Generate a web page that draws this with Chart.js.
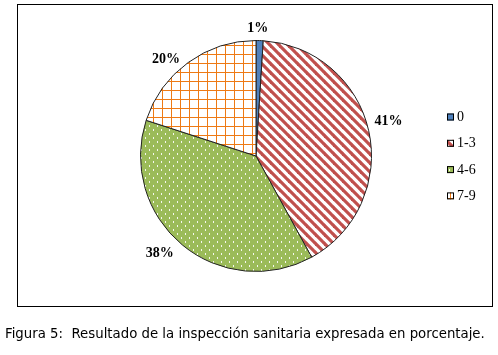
<!DOCTYPE html>
<html>
<head>
<meta charset="utf-8">
<script src="https://cdn.jsdelivr.net/npm/chart.js@4.4.1/dist/chart.umd.min.js"></script>
<style>
  html, body { margin: 0; padding: 0; background: #fff; }
  #wrap { position: relative; width: 498px; height: 355px; overflow: hidden; }
  #chart { position: absolute; left: 0; top: 0; }
  #frame { position: absolute; left: 17px; top: 4px; width: 474px; height: 301px; border: 1.5px solid #000; pointer-events: none; }
  #caption { position: absolute; left: 5px; top: 326px; font-family: "DejaVu Sans", sans-serif; font-size: 13.3px; color: #000; white-space: pre; }
</style>
</head>
<body>
<div id="wrap">
  <canvas id="chart" width="498" height="355"></canvas>
  <div id="frame"></div>
  <div id="caption">Figura 5:  Resultado de la inspección sanitaria expresada en porcentaje.</div>
</div>
<script>
// datos
const categories = ['0', '1-3', '4-6', '7-9'];
const percentages = [1, 41, 38, 20];
const labelTexts = ['1%', '41%', '38%', '20%'];

// ajustes de posición de las etiquetas (grados, px)
const labelAngleShift = [-1, -2, 5, -7];
const labelDist = [128, 137, 137, 132];

function makeTile(w, h, draw) {
  const c = document.createElement('canvas');
  c.width = w; c.height = h;
  const g = c.getContext('2d');
  draw(g);
  return g.createPattern(c, 'repeat');
}

// patrones estilo Excel
const bluePat = '#4F81BD';
const stripePat = makeTile(9, 9, g => {
  g.fillStyle = '#fff';
  g.fillRect(0, 0, 9, 9);
  g.strokeStyle = '#C0504D';
  g.lineWidth = 3.2;
  for (let o = -9; o <= 9; o += 9) {
    g.beginPath();
    g.moveTo(o - 1, -1);
    g.lineTo(o + 10, 10);
    g.stroke();
  }
});
const dotPat = makeTile(8, 8, g => {
  g.fillStyle = '#9BBB59';
  g.fillRect(0, 0, 8, 8);
  g.fillStyle = 'rgba(255,255,255,0.9)';
  g.fillRect(1, 1, 1, 2);
  g.fillRect(5, 5, 1, 2);
});
const gridPat = makeTile(9, 9, g => {
  g.fillStyle = '#fff';
  g.fillRect(0, 0, 9, 9);
  g.fillStyle = '#EE7A14';
  g.fillRect(0, 0, 1, 9);
  g.fillRect(0, 0, 9, 1);
});
const fills = [bluePat, stripePat, dotPat, gridPat];

const labelPlugin = {
  id: 'pieLabels',
  afterDatasetsDraw(chart) {
    const c = chart.ctx;
    const meta = chart.getDatasetMeta(0);
    c.save();
    c.font = 'bold 14px "Liberation Serif", serif';
    c.fillStyle = '#000';
    c.textAlign = 'center';
    c.textBaseline = 'middle';
    meta.data.forEach((arc, i) => {
      const mid = (arc.startAngle + arc.endAngle) / 2 + labelAngleShift[i] * Math.PI / 180;
      const x = arc.x + Math.cos(mid) * labelDist[i];
      const y = arc.y + Math.sin(mid) * labelDist[i];
      c.fillText(labelTexts[i], x, y);
    });
    c.restore();
  }
};

const legendPlugin = {
  id: 'sideLegend',
  afterDraw(chart) {
    const c = chart.ctx;
    c.save();
    c.font = '14px "Liberation Serif", serif';
    c.textBaseline = 'middle';
    categories.forEach((cat, i) => {
      const y = 117 + i * 26.3;
      c.fillStyle = fills[i];
      c.fillRect(447, y - 3.5, 7, 7);
      c.strokeStyle = '#000';
      c.lineWidth = 1;
      c.strokeRect(447.5, y - 3, 6, 6);
      c.fillStyle = '#000';
      c.fillText(cat, 457, y + 0.5);
    });
    c.restore();
  }
};

new Chart(document.getElementById('chart').getContext('2d'), {
  type: 'pie',
  data: {
    labels: categories,
    datasets: [{
      data: percentages,
      backgroundColor: fills,
      borderColor: '#222',
      borderWidth: 1
    }]
  },
  options: {
    responsive: false,
    animation: false,
    layout: { padding: { left: 140, right: 126, top: 40, bottom: 83 } },
    plugins: {
      legend: { display: false },
      tooltip: { enabled: false }
    }
  },
  plugins: [labelPlugin, legendPlugin]
});
</script>
</body>
</html>
